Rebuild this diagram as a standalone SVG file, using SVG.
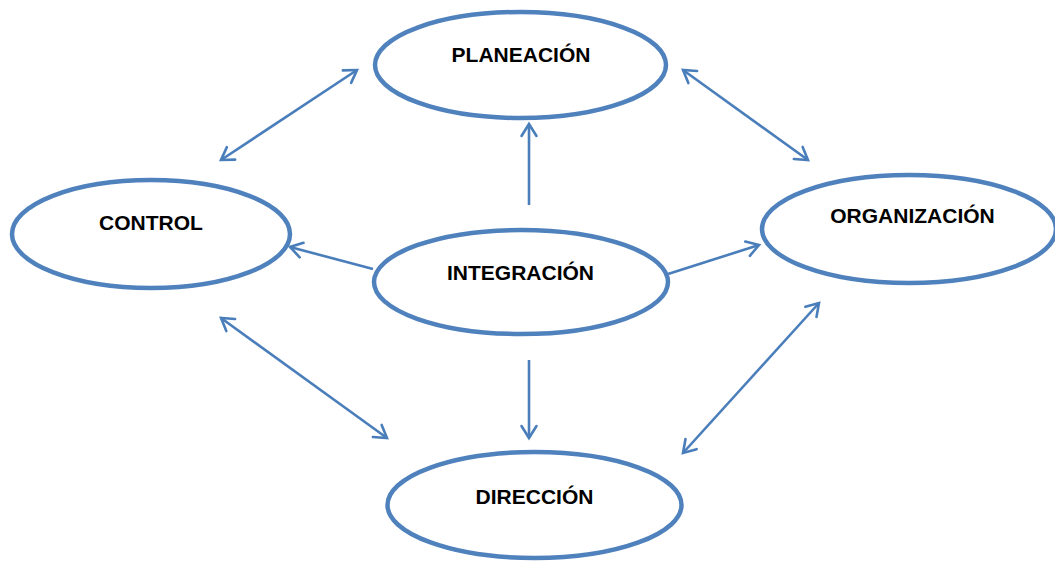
<svg xmlns="http://www.w3.org/2000/svg" width="1055" height="562" viewBox="0 0 1055 562">
  <style>
    .node ellipse { fill: #ffffff; stroke: #4F81BD; stroke-width: 4.5; }
    .node text { font-family: "Liberation Sans", Arial, sans-serif; font-weight: bold; font-size: 21px; fill: #000000; text-anchor: middle; }
    .link { stroke: #4A7EBB; stroke-width: 2.6; fill: none; }
  </style>
  <defs>
    <marker id="tip" markerUnits="userSpaceOnUse" markerWidth="30" markerHeight="30" viewBox="-15 -15 30 30" refX="0" refY="0" orient="auto-start-reverse" overflow="visible">
      <path d="M -12 -7.5 L 0 0 L -12 7.5" fill="none" stroke="#4A7EBB" stroke-width="2.6" stroke-linecap="round" stroke-linejoin="miter"/>
    </marker>
  </defs>
  <rect width="1055" height="562" fill="#ffffff"/>

  <g id="connectors">
    <!-- two-way links around the cycle -->
    <line class="link" x1="221" y1="160" x2="357" y2="70" marker-start="url(#tip)" marker-end="url(#tip)"/>
    <line class="link" x1="683" y1="70" x2="808" y2="160" marker-start="url(#tip)" marker-end="url(#tip)"/>
    <line class="link" x1="221" y1="318" x2="387" y2="438" marker-start="url(#tip)" marker-end="url(#tip)"/>
    <line class="link" x1="819" y1="303" x2="683" y2="453" marker-start="url(#tip)" marker-end="url(#tip)"/>
    <!-- links from the centre -->
    <line class="link" x1="529" y1="205" x2="529" y2="124" marker-end="url(#tip)"/>
    <line class="link" x1="529" y1="360" x2="529" y2="438" marker-end="url(#tip)"/>
    <line class="link" x1="373" y1="269" x2="290" y2="247" marker-end="url(#tip)"/>
    <line class="link" x1="668" y1="274" x2="759" y2="245" marker-end="url(#tip)"/>
  </g>

  <g id="planeacion" class="node">
    <ellipse cx="520.5" cy="65" rx="145.5" ry="53"/>
    <text x="521" y="62">PLANEACIÓN</text>
  </g>
  <g id="control" class="node">
    <ellipse cx="151" cy="234" rx="139" ry="54"/>
    <text x="151" y="230">CONTROL</text>
  </g>
  <g id="organizacion" class="node">
    <ellipse cx="909" cy="229" rx="147" ry="54"/>
    <text x="912.5" y="223">ORGANIZACIÓN</text>
  </g>
  <g id="integracion" class="node">
    <ellipse cx="521" cy="282" rx="147" ry="52"/>
    <text x="520.5" y="280">INTEGRACIÓN</text>
  </g>
  <g id="direccion" class="node">
    <ellipse cx="534.5" cy="505" rx="147" ry="53"/>
    <text x="534.5" y="504">DIRECCIÓN</text>
  </g>
</svg>
